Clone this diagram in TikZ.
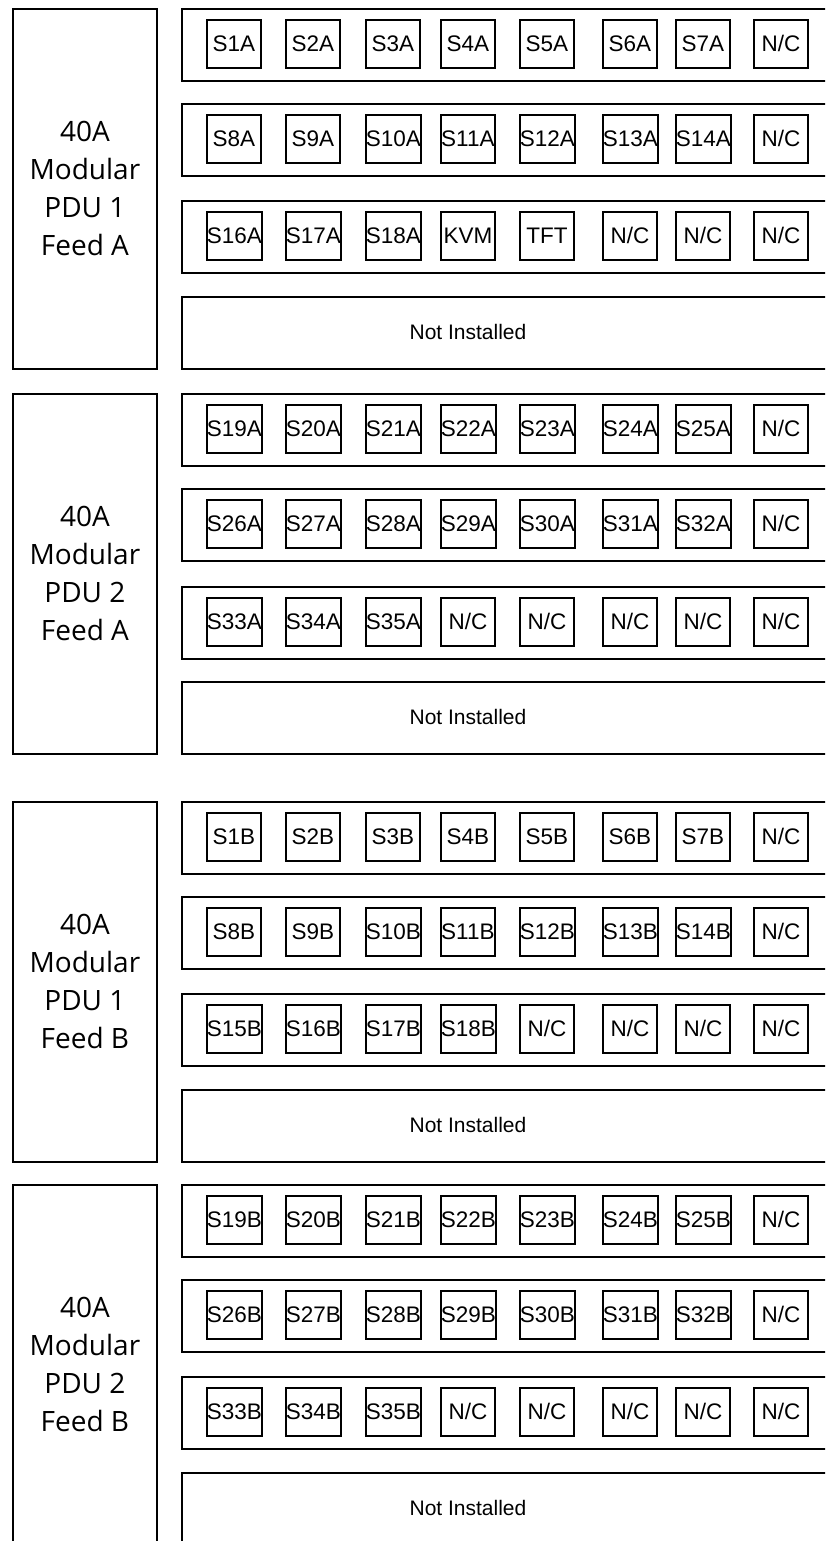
\documentclass[tikz,border=0pt]{standalone}
\usepackage{fontspec}
\setmainfont{Liberation Sans}
\newfontfamily\pdufont{Open Sans}
\usetikzlibrary{positioning}

% one power strip: name, top edge, outlet labels
\newcommand{\outletrow}[3]{%
    \node[strip] (#1) at (181,#2) {};
    \foreach \lab [count=\k] in {#3} {
        \pgfmathsetmacro{\sx}{{206,285,365,440,519,602,675,753}[\k-1]}
        \node[outlet] (#1-\k) at (\sx,#2+11) {\lab};
    }
}

\begin{document}
\begin{tikzpicture}[x=1pt, y=-1pt,
    pdu/.style={rectangle, draw, line width=1.8pt, minimum width=144pt, minimum height=360pt, anchor=north west, align=center, font=\pdufont\fontsize{28}{38}\selectfont},
    strip/.style={rectangle, draw, line width=1.8pt, minimum width=680pt, minimum height=72pt, anchor=north west, inner sep=0pt},
    outlet/.style={rectangle, draw, line width=1.8pt, minimum width=54pt, minimum height=48pt, anchor=north west, inner sep=0pt, font=\fontsize{22.5}{22.5}\selectfont},
    empty/.style={font=\fontsize{21}{21}\selectfont}
]
    \useasboundingbox (0,0) rectangle (825,1541);
    \clip (0,0) rectangle (825,1541);

    % PDU 1, feed A
    \node[pdu] (pdu1a) at (12,8) {40A\\Modular\\PDU 1\\Feed A};
    \outletrow{a1r1}{8}{S1A,S2A,S3A,S4A,S5A,S6A,S7A,N/C}
    \outletrow{a1r2}{103}{S8A,S9A,S10A,S11A,S12A,S13A,S14A,N/C}
    \outletrow{a1r3}{200}{S16A,S17A,S18A,KVM,TFT,N/C,N/C,N/C}
    \node[strip] (a1r4) at (181,296) {};
    \node[empty] (a1none) at (468,332) {Not Installed};

    % PDU 2, feed A
    \node[pdu] (pdu2a) at (12,393) {40A\\Modular\\PDU 2\\Feed A};
    \outletrow{a2r1}{393}{S19A,S20A,S21A,S22A,S23A,S24A,S25A,N/C}
    \outletrow{a2r2}{488}{S26A,S27A,S28A,S29A,S30A,S31A,S32A,N/C}
    \outletrow{a2r3}{586}{S33A,S34A,S35A,N/C,N/C,N/C,N/C,N/C}
    \node[strip] (a2r4) at (181,681) {};
    \node[empty] (a2none) at (468,717) {Not Installed};

    % PDU 1, feed B
    \node[pdu] (pdu1b) at (12,801) {40A\\Modular\\PDU 1\\Feed B};
    \outletrow{b1r1}{801}{S1B,S2B,S3B,S4B,S5B,S6B,S7B,N/C}
    \outletrow{b1r2}{896}{S8B,S9B,S10B,S11B,S12B,S13B,S14B,N/C}
    \outletrow{b1r3}{993}{S15B,S16B,S17B,S18B,N/C,N/C,N/C,N/C}
    \node[strip] (b1r4) at (181,1089) {};
    \node[empty] (b1none) at (468,1125) {Not Installed};

    % PDU 2, feed B
    \node[pdu] (pdu2b) at (12,1184) {40A\\Modular\\PDU 2\\Feed B};
    \outletrow{b2r1}{1184}{S19B,S20B,S21B,S22B,S23B,S24B,S25B,N/C}
    \outletrow{b2r2}{1279}{S26B,S27B,S28B,S29B,S30B,S31B,S32B,N/C}
    \outletrow{b2r3}{1376}{S33B,S34B,S35B,N/C,N/C,N/C,N/C,N/C}
    \node[strip] (b2r4) at (181,1472) {};
    \node[empty] (b2none) at (468,1508) {Not Installed};
\end{tikzpicture}
\end{document}
